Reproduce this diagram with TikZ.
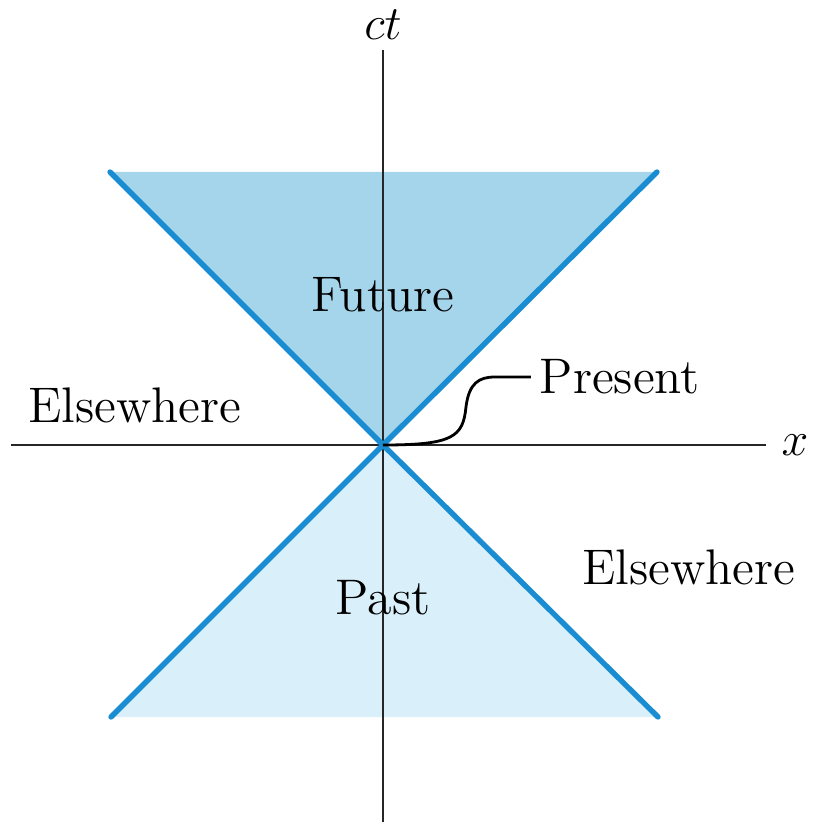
\documentclass[tikz,border=0pt]{standalone}
\usepackage{amsmath}
\usepackage{tikz}
\usetikzlibrary{arrows.meta}
\definecolor{conefuture}{RGB}{165,213,234}
\definecolor{conepast}{RGB}{217,239,249}
\definecolor{coneedge}{RGB}{25,140,210}
\newcommand{\lblfont}{\fontsize{12.5}{14}\selectfont}

\begin{document}
\begin{tikzpicture}[x=0.25pt,y=0.25pt,
  axisline/.style={draw=black!85,line width=0.7pt},
  coneline/.style={draw=coneedge,line width=1.35pt,line cap=round},
  lbl/.style={font=\lblfont,inner sep=2pt}]
\useasboundingbox (-383,-381) rectangle (432,445);
% apex and cone corners
\coordinate (o) at (0,0);
\coordinate (ftl) at (-273,273);
\coordinate (ftr) at (274,273);
\coordinate (pbl) at (-272,-272);
\coordinate (pbr) at (275,-272);
% axis ends
\coordinate (xl) at (-372,0);
\coordinate (xr) at (383,0);
\coordinate (tb) at (0,-377);
\coordinate (tt) at (0,395);
% the two cones
\fill[conefuture] (o) -- (ftl) -- (ftr) -- cycle;
\fill[conepast] (o) -- (pbl) -- (pbr) -- cycle;
% axes
\draw[axisline] (xl) -- (xr);
\draw[axisline] (tb) -- (tt);
\node (xlab) at (412,0) {\lblfont$x$};
\node (ctlab) at (0,420) {\lblfont$ct$};
% light cone edges
\draw[coneline] (ftl) -- (o) -- (pbr);
\draw[coneline] (ftr) -- (o) -- (pbl);
% regions
\node[lbl] (fut) at (0,150) {Future};
\node[lbl] (pst) at (0,-153) {Past};
\node[lbl] (elsl) at (-248,40) {Elsewhere};
\node[lbl] (elsr) at (306,-122) {Elsewhere};
\node[lbl,anchor=west] (pres) at (148,68) {Present};
\draw[line width=0.7pt] (o) .. controls (70,0) and (80,8) .. (83,38)
  .. controls (86,62) and (96,68) .. (112,68) -- (pres.west);
\end{tikzpicture}
\end{document}
